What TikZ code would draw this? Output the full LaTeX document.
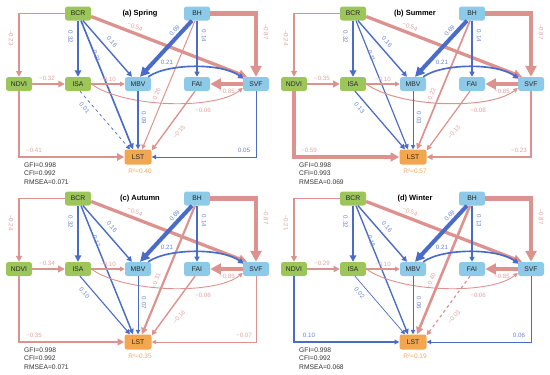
\documentclass[tikz,border=0pt]{standalone}
\usepackage{fontspec}
\setmainfont{Liberation Sans}
\usetikzlibrary{arrows.meta}
\definecolor{ngreen}{HTML}{9CC65A}
\definecolor{nblue}{HTML}{8DCAE8}
\definecolor{norange}{HTML}{F2A74E}
\definecolor{eblue}{HTML}{4A6BC8}
\definecolor{epink}{HTML}{DC938F}
\definecolor{tblue}{HTML}{6A86CC}
\definecolor{tpink}{HTML}{E2A3A0}
\definecolor{torange}{HTML}{F0A860}
\tikzset{
 nd/.style={rounded corners=2.5pt, minimum width=26pt, minimum height=14pt, inner sep=0pt, font=\fontsize{6.8}{7}\selectfont, text=black!85},
 gnode/.style={nd, fill=ngreen},
 bnode/.style={nd, fill=nblue},
 onode/.style={nd, fill=norange, minimum width=27pt, minimum height=15pt},
 pe/.style={draw=eblue, line width=#1, -{Triangle[length=3pt 1.6, width=3pt 1.6]}},
 ne/.style={draw=epink, line width=#1, -{Triangle[length=3pt 1.6, width=3pt 1.6]}},
 pl/.style={text=tblue, font=\fontsize{6.2}{7}\selectfont, inner sep=0.3pt},
 nl/.style={text=tpink, font=\fontsize{6.2}{7}\selectfont, inner sep=0.3pt},
 ttl/.style={font=\bfseries\fontsize{7.5}{9}\selectfont, inner sep=0pt},
 stat/.style={font=\fontsize{6.7}{8}\selectfont, anchor=west, inner sep=0pt, text=black!80},
 rsq/.style={text=torange, font=\fontsize{6.5}{8}\selectfont, inner sep=0pt},
}
\newcommand\setedge[5]{\tikzset{e#1/.style={#2e=#3,#4},e#1l/.style={#2l}}\expandafter\def\csname t#1\endcsname{#5}}
\newcommand\edgelab[1]{\csname t#1\endcsname}
\newcommand\drawpanel[8]{%
\begin{scope}[shift={(#2,#3)}]
\node[gnode] (#1BCR) at (78,13.5) {BCR};
\node[bnode] (#1BH) at (197,13.5) {BH};
\node[gnode] (#1NDVI) at (19,84) {NDVI};
\node[gnode] (#1ISA) at (78,84) {ISA};
\node[bnode] (#1MBV) at (138,84) {MBV};
\node[bnode] (#1FAI) at (197,84) {FAI};
\node[bnode] (#1SVF) at (256,84) {SVF};
\node[onode] (#1LST) at (138,157) {LST};
\node[ttl] (#1T) at (140,14) {#4};
\node[rsq] (#1R) at (140,171.5) {R²=#5};
\node[stat] (#1G) at (24,165) {GFI=#6};
\node[stat] (#1C) at (24,173.5) {CFI=#7};
\node[stat] (#1M) at (24,182) {RMSEA=#8};
\draw[eBN] (#1BCR.west) -| (#1NDVI.north);
\node[eBNl,rotate=-90] (#1BNl) at (11,38) {\edgelab{BN}};
\draw[eHS] (#1BH.east) -| (#1SVF.north);
\node[eHSl,rotate=-90] (#1HSl) at (266,32) {\edgelab{HS}};
\draw[eBI] (#1BCR.south) -- (#1ISA.north);
\node[eBIl,rotate=-90] (#1BIl) at (70.5,37) {\edgelab{BI}};
\draw[eBM] ([xshift=5pt]#1BCR.south) -- ([xshift=-6pt]#1MBV.north);
\node[eBMl,rotate=-48] (#1BMl) at (112,42) {\edgelab{BM}};
\draw[eBL] ([xshift=3pt]#1BCR.south) -- ([xshift=-5pt]#1LST.north);
\node[eBLl,rotate=-68] (#1BLl) at (96.5,56) {\edgelab{BL}};
\draw[eBS] ([yshift=-3pt]#1BCR.east) -- ([xshift=-9pt]#1SVF.north);
\node[eBSl,rotate=-20] (#1BSl) at (135,26.5) {\edgelab{BS}};
\draw[eHM] ([xshift=-5pt]#1BH.south) -- ([xshift=2pt]#1MBV.north);
\node[eHMl,rotate=48] (#1HMl) at (174.5,30.5) {\edgelab{HM}};
\draw[eHF] (#1BH.south) -- (#1FAI.north);
\node[eHFl,rotate=-90] (#1HFl) at (204,36) {\edgelab{HF}};
\draw[eHL] ([xshift=-2pt]#1BH.south) -- ([xshift=4pt]#1LST.north);
\node[eHLl,rotate=67] (#1HLl) at (156,96) {\edgelab{HL}};
\draw[eNI] (#1NDVI.east) -- (#1ISA.west);
\node[eNIl] (#1NIl) at (47,78) {\edgelab{NI}};
\draw[eIM] (#1ISA.east) -- (#1MBV.west);
\node[eIMl] (#1IMl) at (108,79) {\edgelab{IM}};
\draw[eMS] ([xshift=-3pt]#1MBV.north east) .. controls (168,63) and (222,63) .. ([xshift=1pt,yshift=-2pt]#1SVF.north west);
\node[eMSl] (#1MSl) at (167,62.5) {\edgelab{MS}};
\draw[eSF] (#1SVF.west) -- (#1FAI.east);
\node[eSFl] (#1SFl) at (227,91) {\edgelab{SF}};
\draw[eIS] (#1ISA.east) .. controls (125,108) and (215,110) .. ([yshift=-4pt]#1SVF.west);
\node[eISl] (#1ISl) at (203,110.5) {\edgelab{IS}};
\draw[eIL] ([xshift=2pt]#1ISA.south) -- ([xshift=-8pt]#1LST.north);
\node[eILl,rotate=-50] (#1ILl) at (84.5,108) {\edgelab{IL}};
\draw[eML] (#1MBV.south) -- (#1LST.north);
\node[eMLl,rotate=-90] (#1MLl) at (144,118) {\edgelab{ML}};
\draw[eFL] ([xshift=-2pt]#1FAI.south) -- ([yshift=-1pt]#1LST.north east);
\node[eFLl,rotate=50] (#1FLl) at (179,132) {\edgelab{FL}};
\draw[eNL] (#1NDVI.south) |- (#1LST.west);
\node[eNLl] (#1NLl) at (34,150) {\edgelab{NL}};
\draw[eSL] (#1SVF.south) |- (#1LST.east);
\node[eSLl] (#1SLl) at (244,150) {\edgelab{SL}};
\end{scope}}
\begin{document}
\begin{tikzpicture}[x=1pt,y=-1pt]
\useasboundingbox (0,0) rectangle (550,375);
% ---- (a) Spring
\setedge{BN}{n}{1.75pt}{}{−0.23}
\setedge{HS}{n}{4.95pt}{}{−0.87}
\setedge{BI}{p}{2.2pt}{}{0.32}
\setedge{BM}{p}{1.4pt}{}{0.16}
\setedge{BL}{p}{1.65pt}{}{0.21}
\setedge{BS}{n}{3.3pt}{}{−0.54}
\setedge{HM}{p}{4.05pt}{}{0.69}
\setedge{HF}{p}{1.3pt}{}{0.14}
\setedge{HL}{n}{1.0pt}{}{−0.26}
\setedge{NI}{n}{2.2pt}{}{−0.32}
\setedge{IM}{n}{1.1pt}{}{−0.10}
\setedge{MS}{p}{1.65pt}{}{0.21}
\setedge{SF}{n}{4.85pt}{}{−0.85}
\setedge{IS}{n}{0.9pt}{}{−0.06}
\setedge{IL}{p}{0.7pt}{dashed}{0.01}
\setedge{ML}{p}{1.05pt}{}{0.09}
\setedge{FL}{n}{1.35pt}{}{−0.15}
\setedge{NL}{n}{2.65pt}{}{−0.41}
\setedge{SL}{p}{0.85pt}{}{0.05}
\drawpanel{a}{0}{0}{(a) Spring}{0.40}{0.998}{0.992}{0.071}
% ---- (b) Summer
\setedge{BN}{n}{1.8pt}{}{−0.24}
\setedge{HS}{n}{4.95pt}{}{−0.87}
\setedge{BI}{p}{2.2pt}{}{0.32}
\setedge{BM}{p}{1.4pt}{}{0.16}
\setedge{BL}{p}{1.15pt}{}{0.11}
\setedge{BS}{n}{3.3pt}{}{−0.54}
\setedge{HM}{p}{4.05pt}{}{0.69}
\setedge{HF}{p}{1.3pt}{}{0.14}
\setedge{HL}{n}{1.7pt}{}{−0.22}
\setedge{NI}{n}{2.35pt}{}{−0.35}
\setedge{IM}{n}{1.1pt}{}{−0.10}
\setedge{MS}{p}{1.65pt}{}{0.21}
\setedge{SF}{n}{4.85pt}{}{−0.85}
\setedge{IS}{n}{1.0pt}{}{−0.08}
\setedge{IL}{p}{1.25pt}{}{0.13}
\setedge{ML}{p}{0.75pt}{}{0.03}
\setedge{FL}{n}{1.25pt}{}{−0.13}
\setedge{NL}{n}{3.55pt}{}{−0.59}
\setedge{SL}{n}{1.75pt}{}{−0.23}
\drawpanel{b}{275}{0}{(b) Summer}{0.57}{0.998}{0.993}{0.069}
% ---- (c) Autumn
\setedge{BN}{n}{1.8pt}{}{−0.24}
\setedge{HS}{n}{4.95pt}{}{−0.87}
\setedge{BI}{p}{2.2pt}{}{0.32}
\setedge{BM}{p}{1.4pt}{}{0.16}
\setedge{BL}{p}{1.45pt}{}{0.17}
\setedge{BS}{n}{3.3pt}{}{−0.54}
\setedge{HM}{p}{4.05pt}{}{0.69}
\setedge{HF}{p}{1.3pt}{}{0.14}
\setedge{HL}{n}{2.15pt}{}{−0.31}
\setedge{NI}{n}{2.3pt}{}{−0.34}
\setedge{IM}{n}{1.1pt}{}{−0.10}
\setedge{MS}{p}{1.65pt}{}{0.21}
\setedge{SF}{n}{4.85pt}{}{−0.85}
\setedge{IS}{n}{0.9pt}{}{−0.06}
\setedge{IL}{p}{1.1pt}{}{0.10}
\setedge{ML}{p}{0.95pt}{}{0.07}
\setedge{FL}{n}{1.4pt}{}{−0.16}
\setedge{NL}{n}{2.35pt}{}{−0.35}
\setedge{SL}{n}{0.95pt}{}{−0.07}
\drawpanel{c}{0}{185}{(c) Autumn}{0.35}{0.998}{0.992}{0.071}
% ---- (d) Winter
\setedge{BN}{n}{1.65pt}{}{−0.21}
\setedge{HS}{n}{4.95pt}{}{−0.87}
\setedge{BI}{p}{2.2pt}{}{0.32}
\setedge{BM}{p}{1.4pt}{}{0.16}
\setedge{BL}{p}{1.35pt}{}{0.15}
\setedge{BS}{n}{3.3pt}{}{−0.54}
\setedge{HM}{p}{4.05pt}{}{0.69}
\setedge{HF}{p}{1.25pt}{}{0.13}
\setedge{HL}{n}{2.6pt}{}{−0.40}
\setedge{NI}{n}{2.05pt}{}{−0.29}
\setedge{IM}{n}{1.1pt}{}{−0.10}
\setedge{MS}{p}{1.65pt}{}{0.21}
\setedge{SF}{n}{4.85pt}{}{−0.85}
\setedge{IS}{n}{0.9pt}{}{−0.06}
\setedge{IL}{p}{0.7pt}{}{0.02}
\setedge{ML}{p}{0.9pt}{}{0.06}
\setedge{FL}{n}{1.2pt}{dashed}{−0.03}
\setedge{NL}{p}{1.1pt}{}{0.10}
\setedge{SL}{p}{0.9pt}{}{0.06}
\drawpanel{d}{275}{185}{(d) Winter}{0.19}{0.998}{0.992}{0.068}
\end{tikzpicture}
\end{document}
